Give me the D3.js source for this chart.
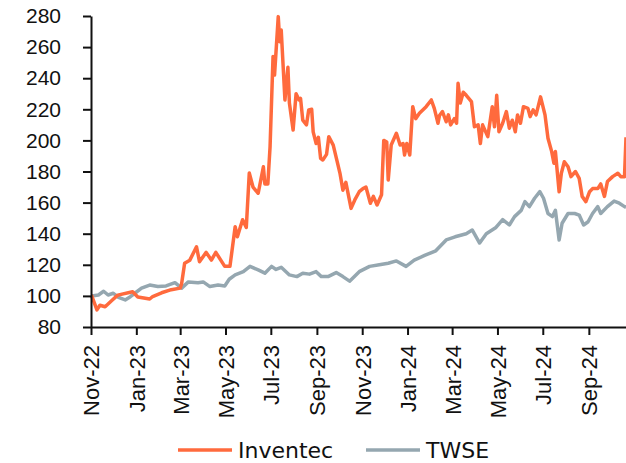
<!DOCTYPE html>
<html>
<head>
<meta charset="utf-8">
<script src="https://cdn.jsdelivr.net/npm/d3@7"></script>
<style>
  body { margin: 0; background: #fff; }
  svg { display: block; font-family: "DejaVu Sans", sans-serif; }
  .axis path, .axis line { stroke: #111; stroke-width: 2; }
  .axis text { fill: #111; }
</style>
</head>
<body>
<svg id="chart" width="626" height="463"></svg>
<script>
const seriesNames = ["Inventec", "TWSE"];
const seriesColors = ["#FF6A3D", "#95A7B0"];
const yTicks = [80, 100, 120, 140, 160, 180, 200, 220, 240, 260, 280];
const xTicks = ["2022-11-01","2023-01-01","2023-03-01","2023-05-01","2023-07-01","2023-09-01",
  "2023-11-01","2024-01-01","2024-03-01","2024-05-01","2024-07-01","2024-09-01"];

// rebased price, start = 100
const inventec = [
  ["2022-11-01",100],["2022-11-02",100],["2022-11-09",91],["2022-11-13",94],["2022-11-20",93],
  ["2022-11-29",97],["2022-12-07",100.5],["2022-12-27",102.7],["2023-01-03",99.3],["2023-01-19",98],
  ["2023-01-23",99.6],["2023-02-04",102],["2023-02-17",104],["2023-03-01",105],["2023-03-03",108],
  ["2023-03-07",121],["2023-03-14",123],["2023-03-23",131.6],["2023-03-27",122],["2023-04-05",128],
  ["2023-04-12",123],["2023-04-18",128],["2023-04-30",119],["2023-05-07",119],["2023-05-14",144.5],
  ["2023-05-17",138],["2023-05-24",149],["2023-05-29",144],["2023-06-02",179],["2023-06-07",170],
  ["2023-06-14",166],["2023-06-21",183],["2023-06-23",172],["2023-06-27",172],["2023-06-30",196],
  ["2023-07-04",254],["2023-07-06",242],["2023-07-11",279.6],["2023-07-13",263.5],["2023-07-15",271],
  ["2023-07-20",226],["2023-07-24",247],["2023-07-26",224],["2023-07-31",206.7],["2023-08-04",230],
  ["2023-08-08",226],["2023-08-10",227],["2023-08-13",213],["2023-08-18",210],["2023-08-21",219.6],
  ["2023-08-25",220],["2023-08-27",205.5],["2023-08-31",198],["2023-09-03",202],["2023-09-06",188.5],
  ["2023-09-09",187.4],["2023-09-14",191],["2023-09-17",202.4],["2023-09-23",197],["2023-09-28",187],
  ["2023-10-02",179],["2023-10-06",168],["2023-10-10",173],["2023-10-17",156.3],["2023-10-22",161.7],
  ["2023-10-28",167],["2023-11-02",169],["2023-11-06",170],["2023-11-12",159.6],["2023-11-16",164],
  ["2023-11-21",158.5],["2023-11-27",165],["2023-11-30",200],["2023-12-04",199],["2023-12-06",174.5],
  ["2023-12-10",197],["2023-12-17",204.6],["2023-12-22",197],["2023-12-26",198],["2023-12-28",190.6],
  ["2023-12-31",198],["2024-01-04",190.6],["2024-01-08",221.7],["2024-01-12",214],["2024-01-17",217.4],
  ["2024-01-26",221.7],["2024-02-02",226],["2024-02-06",220.6],["2024-02-11",211],["2024-02-13",216],
  ["2024-02-17",218.5],["2024-02-22",212],["2024-02-25",216.4],["2024-02-28",210],["2024-03-04",214],
  ["2024-03-07",211],["2024-03-09",236.7],["2024-03-12",224],["2024-03-16",231],["2024-03-20",229],
  ["2024-03-27",225],["2024-03-31",208.8],["2024-04-05",210],["2024-04-08",198],["2024-04-11",210],
  ["2024-04-18",202.4],["2024-04-24",221.7],["2024-04-27",208.8],["2024-04-30",229],["2024-05-03",205.6],
  ["2024-05-08",211],["2024-05-13",218.5],["2024-05-17",207.8],["2024-05-21",213],["2024-05-25",205.6],
  ["2024-05-28",216.4],["2024-06-01",211],["2024-06-05",221.7],["2024-06-11",220.6],["2024-06-14",215.3],
  ["2024-06-18",219.6],["2024-06-22",216.4],["2024-06-28",228],["2024-07-04",216.4],["2024-07-08",201.4],
  ["2024-07-13",192.8],["2024-07-16",185.3],["2024-07-18",192.8],["2024-07-23",167],["2024-07-26",178.9],
  ["2024-07-30",186.3],["2024-08-04",183],["2024-08-08",176.7],["2024-08-14",180],["2024-08-19",175.6],
  ["2024-08-23",164],["2024-08-28",160.6],["2024-09-02",167],["2024-09-06",169],["2024-09-13",169],
  ["2024-09-17",172],["2024-09-22",164],["2024-09-26",173.5],["2024-10-03",176.7],["2024-10-10",178.9],
  ["2024-10-14",176.7],["2024-10-19",176.7],["2024-10-21",202]
];

const twse = [
  ["2022-11-01",100],["2022-11-02",100],["2022-11-11",100.6],["2022-11-18",103],["2022-11-24",100.6],
  ["2022-12-01",101.7],["2022-12-08",99],["2022-12-17",97.4],["2022-12-24",99.5],["2022-12-30",101.7],
  ["2023-01-08",105],["2023-01-19",107],["2023-01-30",106],["2023-02-10",106.4],["2023-02-22",108.5],
  ["2023-03-03",105],["2023-03-12",109],["2023-03-25",108.5],["2023-04-01",109],["2023-04-10",106],
  ["2023-04-21",107],["2023-04-30",106.4],["2023-05-06",110.7],["2023-05-14",113.5],["2023-05-25",115.6],
  ["2023-06-03",119],["2023-06-14",116.7],["2023-06-23",114.6],["2023-07-02",119],["2023-07-08",117],
  ["2023-07-15",118.4],["2023-07-26",113.5],["2023-08-05",112.4],["2023-08-13",114.6],["2023-08-22",114],
  ["2023-08-31",115.6],["2023-09-07",112.4],["2023-09-16",112.4],["2023-09-27",115],["2023-10-06",112.4],
  ["2023-10-15",109.5],["2023-10-28",115.6],["2023-11-11",119],["2023-11-24",120],["2023-12-06",121],
  ["2023-12-17",122.5],["2023-12-30",119],["2024-01-10",123],["2024-01-24",126],["2024-02-08",129],
  ["2024-02-22",136],["2024-03-05",138],["2024-03-20",140],["2024-03-28",142.4],["2024-04-07",134],
  ["2024-04-16",140],["2024-04-29",144],["2024-05-08",149],["2024-05-17",145.6],["2024-05-24",151],
  ["2024-06-02",155],["2024-06-07",160.6],["2024-06-13",157.4],["2024-06-20",162.8],["2024-06-27",167],
  ["2024-07-02",162.8],["2024-07-08",153],["2024-07-14",151],["2024-07-18",155],["2024-07-23",136],
  ["2024-07-27",146.7],["2024-08-04",153],["2024-08-13",153],["2024-08-19",152],["2024-08-25",145.6],
  ["2024-08-31",147.7],["2024-09-06",153],["2024-09-13",157.4],["2024-09-17",153],["2024-09-26",157.4],
  ["2024-10-05",161],["2024-10-12",159.6],["2024-10-19",157.4],["2024-10-21",157]
];

const parse = d3.timeParse("%Y-%m-%d");
const fmt = d3.timeFormat("%b-%y");

function draw() {
  const svg = d3.select('#chart');
  const m = {left: 91, right: 0, top: 16, bottom: 136};
  const W = +svg.attr('width'), H = +svg.attr('height');

  const series = [inventec, twse].map((s, i) => ({
    name: seriesNames[i],
    color: seriesColors[i],
    values: s.map(d => ({date: parse(d[0]), value: d[1]}))
  }));

  const x = d3.scaleTime()
    .domain([parse("2022-11-01"), parse("2024-10-21")])
    .range([m.left, W - m.right]);
  const y = d3.scaleLinear()
    .domain([80, 280])
    .range([H - m.bottom, m.top]);

  const line = d3.line()
    .x(d => x(d.date))
    .y(d => y(d.value));

  svg.append('g')
    .selectAll('path')
    .data(series.slice().reverse())
    .join('path')
      .attr('fill', 'none')
      .attr('stroke', d => d.color)
      .attr('stroke-width', 3.5)
      .attr('stroke-linejoin', 'round')
      .attr('d', d => line(d.values));

  const gy = svg.append('g')
    .attr('class', 'axis')
    .attr('transform', `translate(${m.left},0)`)
    .call(d3.axisLeft(y).tickValues(yTicks).tickSize(8).tickSizeOuter(0).tickPadding(22));
  gy.selectAll('text')
    .style('font-size', '21px')
    .attr('x', -30);

  const gx = svg.append('g')
    .attr('class', 'axis')
    .attr('transform', `translate(0,${H - m.bottom})`)
    .call(d3.axisBottom(x).tickValues(xTicks.map(parse)).tickFormat(fmt).tickSize(8).tickSizeOuter(0));
  gx.selectAll('text')
    .style('font-size', '22px')
    .attr('text-anchor', 'end')
    .attr('transform', 'rotate(-90)')
    .attr('x', -18)
    .attr('y', 0)
    .attr('dy', '0.36em');

  // legend
  const lg = svg.append('g').attr('transform', 'translate(0,450)');
  const lx = [178, 366];
  series.forEach((s, i) => {
    lg.append('line')
      .attr('x1', lx[i]).attr('x2', lx[i] + 54)
      .attr('stroke', s.color).attr('stroke-width', 3.5);
    lg.append('text')
      .attr('x', lx[i] + 60).attr('y', 0).attr('dy', '0.36em')
      .style('font-size', '22px').attr('fill', '#111')
      .text(s.name);
  });
}

window.onload = draw;
</script>
</body>
</html>
